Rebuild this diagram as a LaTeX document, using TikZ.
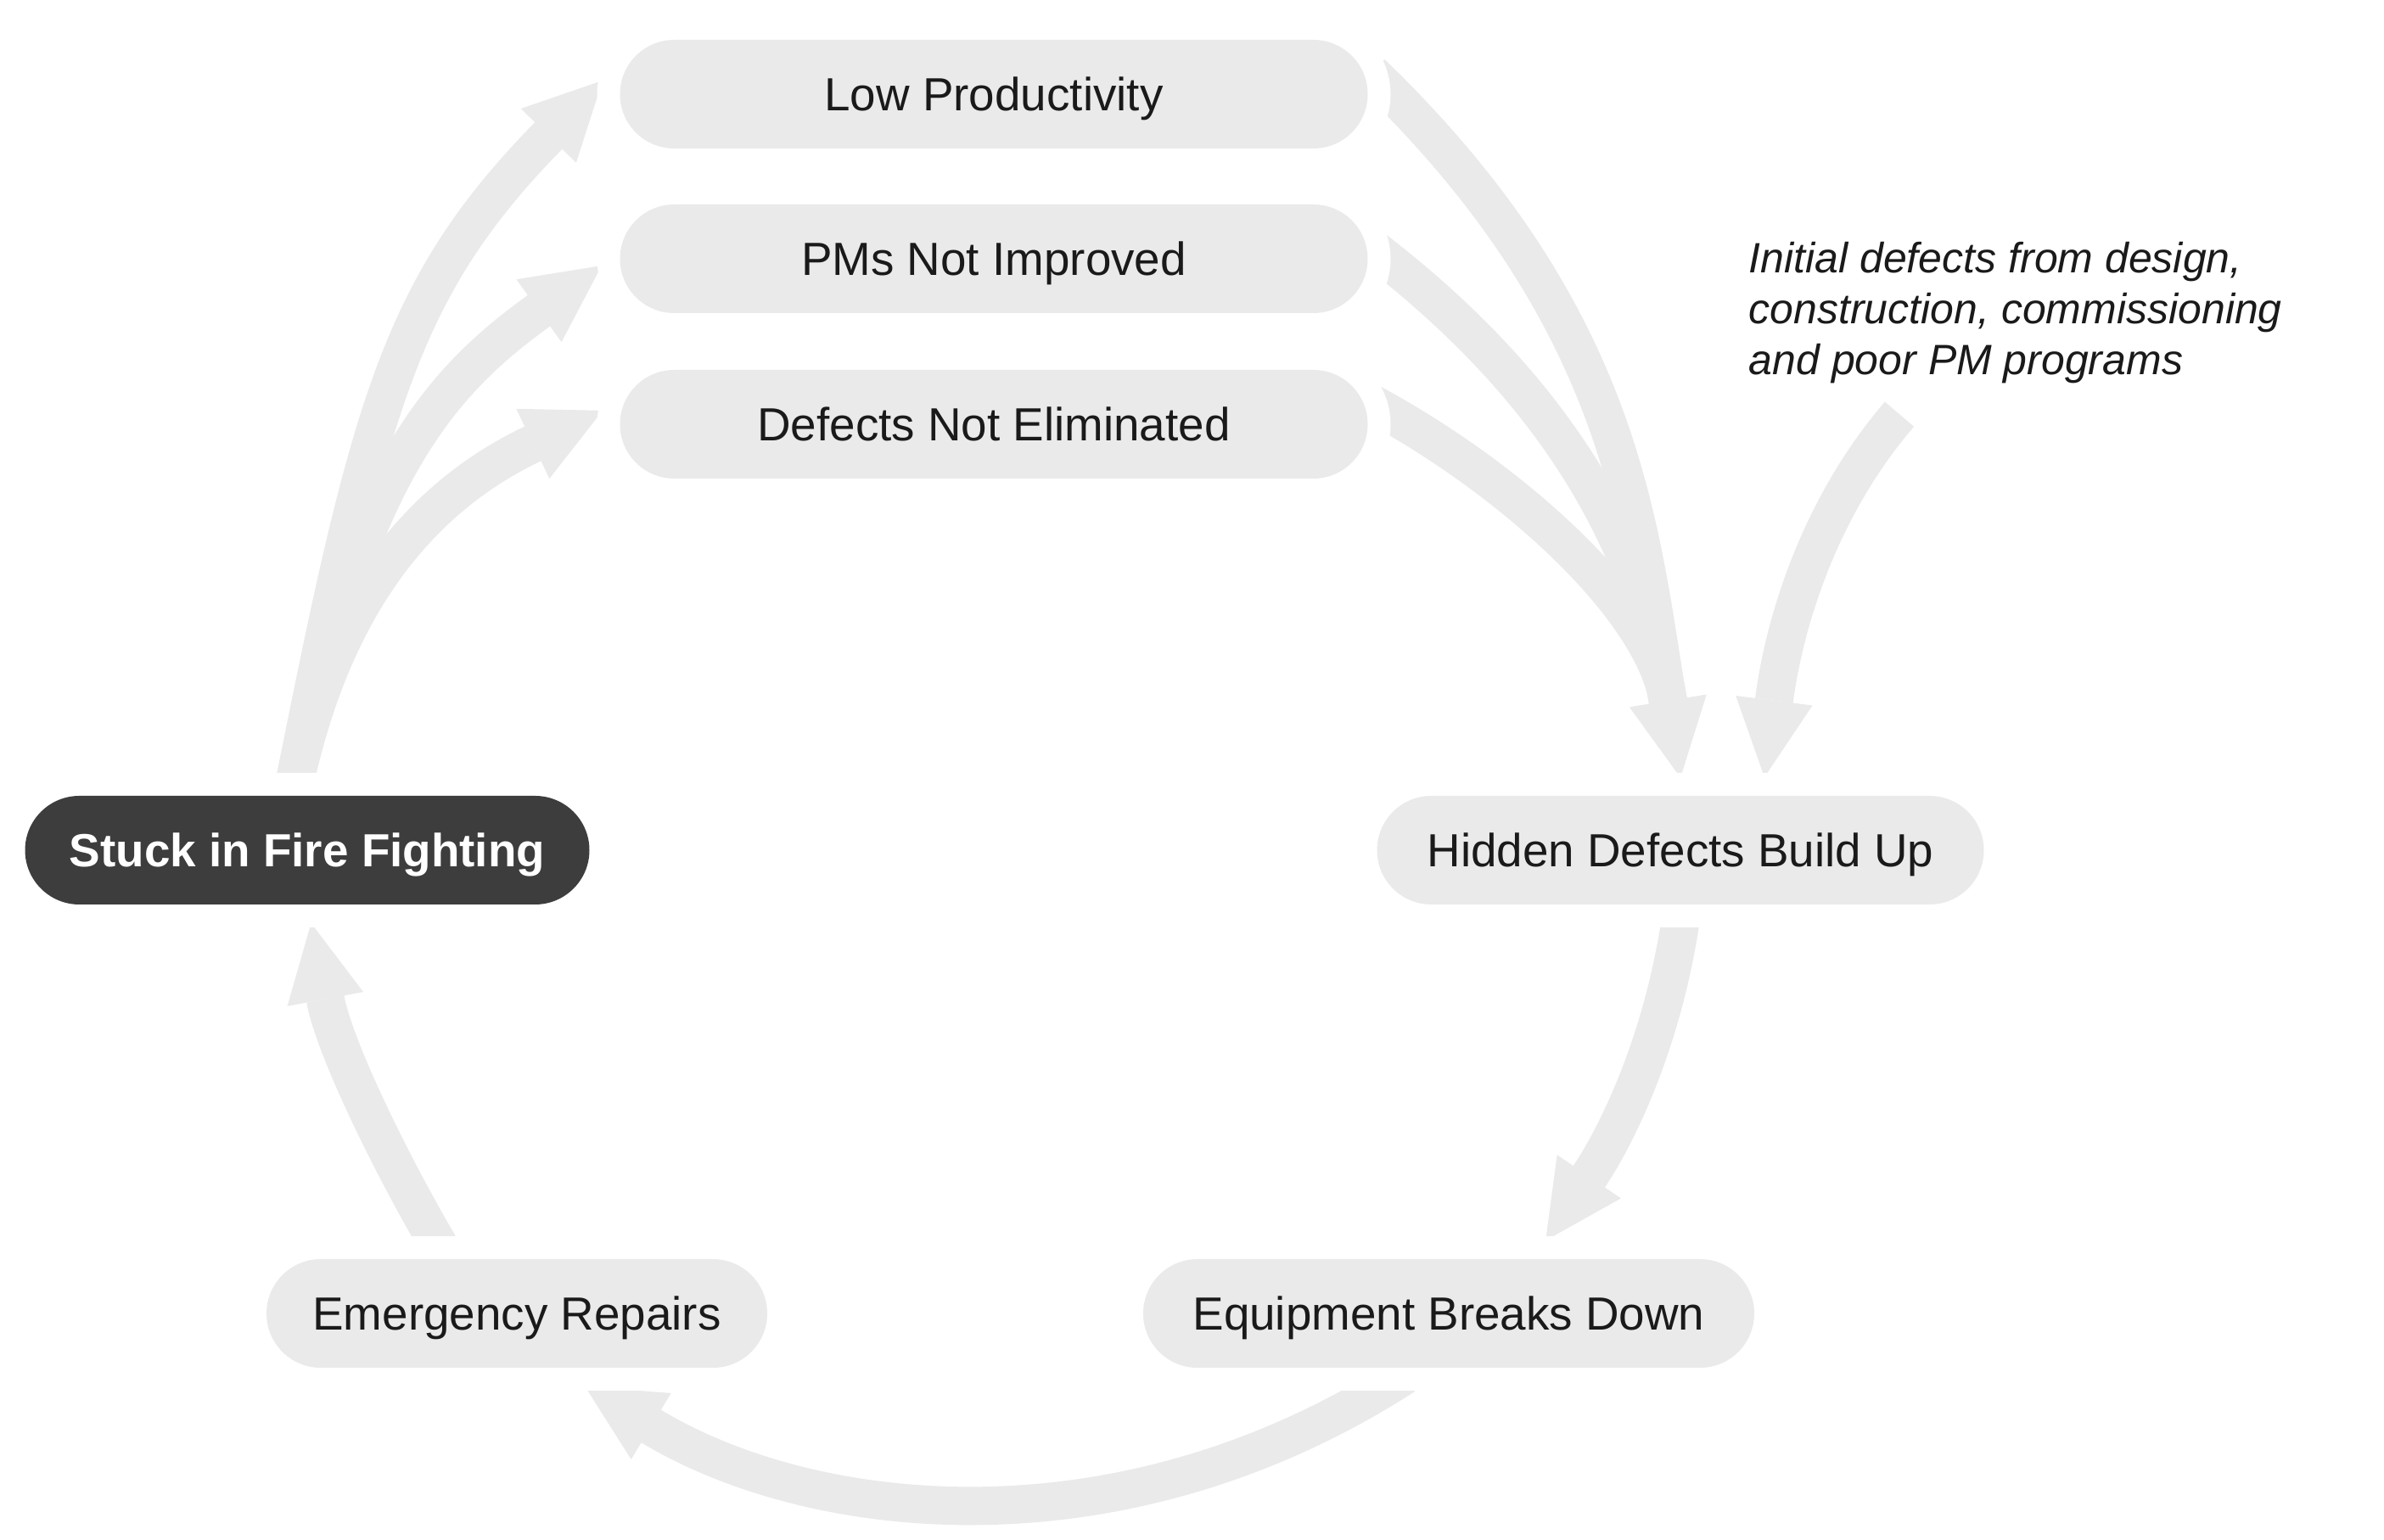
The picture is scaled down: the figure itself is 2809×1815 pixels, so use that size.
\documentclass[tikz,border=0pt]{standalone}
\usepackage{fontspec}
\setmainfont{Liberation Sans}
\usetikzlibrary{arrows.meta,shapes.misc,calc}
\pgfdeclarelayer{bg}
\pgfsetlayers{bg,main}
\definecolor{boxgray}{HTML}{EAEAEA}
\definecolor{darkfill}{HTML}{3D3D3D}
\definecolor{txt}{HTML}{1A1A1A}
\begin{document}
\begin{tikzpicture}[x=0.25pt, y=-0.25pt,
  box/.style={rounded rectangle, fill=boxgray, text=txt, minimum height=32pt,
    inner sep=0pt, outer sep=5.5pt, font=\fontsize{13.7}{16}\selectfont,
    text height=9.8pt, text depth=0pt,
    preaction={draw=white, line width=13.5pt}},
  hotbox/.style={box, fill=darkfill, text=white,
    font=\fontsize{13.7}{16}\selectfont\bfseries},
  note/.style={align=left, anchor=north west, inner sep=0pt, text=txt,
    font=\fontsize{12.5}{15}\selectfont\itshape},
  flow/.style={draw=boxgray, line width=11.25pt,
    -{Triangle[length=22.75pt,width=22.75pt,line width=0pt]},
    shorten <=-6pt}
]
\useasboundingbox (0,0) rectangle (2809,1815);

% nodes
\node[box, minimum width=220.25pt] (low) at (1171,111) {Low Productivity};
\node[box, minimum width=220.25pt] (pms) at (1171,305) {PMs Not Improved};
\node[box, minimum width=220.25pt] (defects) at (1171,500) {Defects Not Eliminated};
\node[hotbox, minimum width=166.25pt] (stuck) at (362,1002) {Stuck in Fire Fighting};
\node[box, minimum width=178.75pt] (hidden) at (1980,1002) {Hidden Defects Build Up};
\node[box, minimum width=180pt] (equip) at (1707,1548) {Equipment Breaks Down};
\node[box, minimum width=147.5pt] (emerg) at (609,1548) {Emergency Repairs};
\node[note] (note) at (2060,284) {Initial defects from design,\\construction, commissioning\\and poor PM programs};
\coordinate (noteout) at ($(note.south west)+(178,36)$);

\begin{pgfonlayer}{bg}
\fill[white] (0,0) rectangle (2809,1815);
% from Stuck in Fire Fighting
\draw[flow] (stuck.99) .. controls (435,480) and (470,340) .. (low.178);
\draw[flow] (stuck.99) .. controls (418,565) and (513,454) .. (pms.181);
\draw[flow] (stuck.99) .. controls (393,692) and (512,578) .. (defects.178);
% into Hidden Defects Build Up
\draw[flow] (low.1) .. controls (1914,374) and (1931,620) .. (hidden.north);
\draw[flow] (pms.east) .. controls (1835,459) and (1935,641) .. (hidden.north);
\draw[flow] (defects.2) .. controls (1781,563) and (1948,716) .. (hidden.north);
\draw[flow, shorten <=0pt] (noteout) .. controls (2140,602) and (2101,742) .. (hidden.41);
% cycle
\draw[flow] (hidden.south) .. controls (1962,1230) and (1900,1346) .. (equip.37);
\draw[flow] (equip.230) .. controls (1323,1835) and (960,1797) .. (emerg.-47);
\draw[flow] (emerg.138) .. controls (470,1390) and (395,1240) .. (stuck.-87);
\end{pgfonlayer}
\end{tikzpicture}
\end{document}
